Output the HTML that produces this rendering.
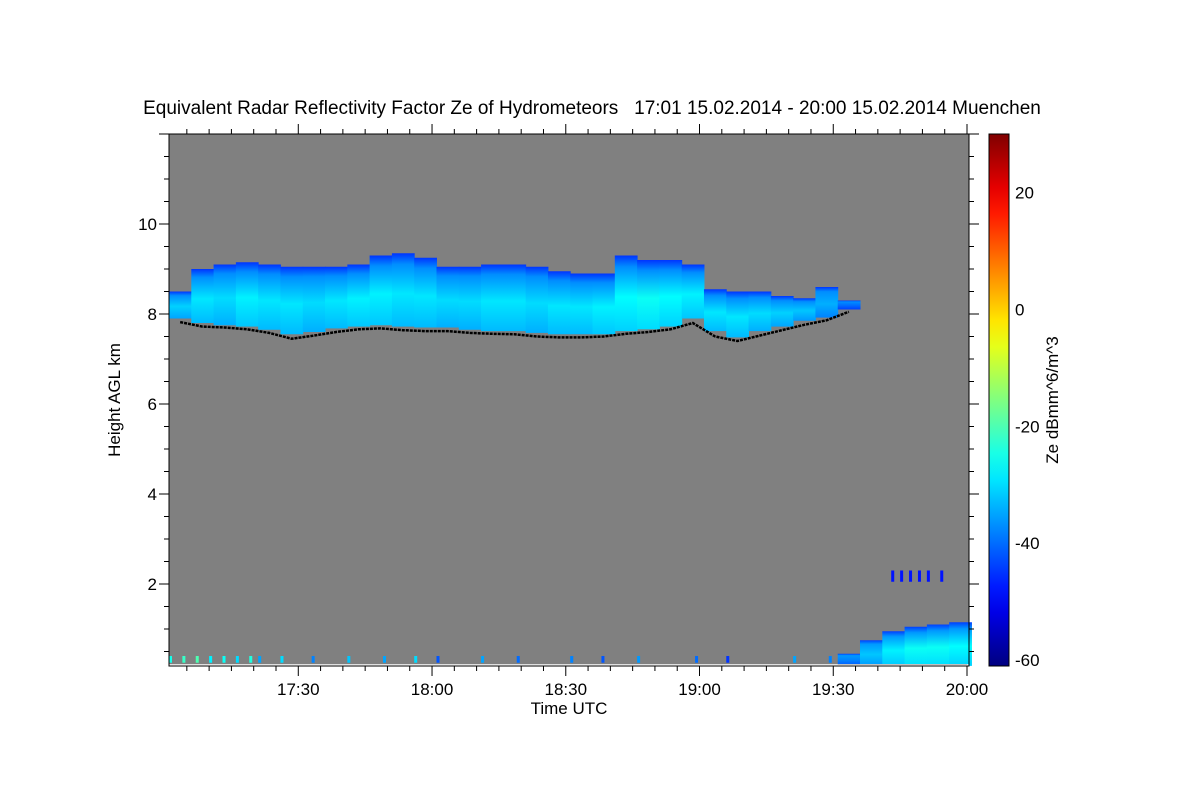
<!DOCTYPE html>
<html><head><meta charset="utf-8"><style>
body{margin:0;background:#fff}
svg text{font-family:"Liberation Sans",sans-serif;fill:#000;white-space:pre}
</style></head><body>
<svg id="chart" width="1200" height="800" xmlns="http://www.w3.org/2000/svg">
<text x="592" y="114" font-size="19" text-anchor="middle" xml:space="preserve">Equivalent Radar Reflectivity Factor Ze of Hydrometeors   17:01 15.02.2014 - 20:00 15.02.2014 Muenchen</text>
<rect x="169" y="134" width="800" height="532" fill="#808080"/>
<g id="marks"></g>
<line x1="169" y1="665" x2="969" y2="665" stroke="#fff" stroke-width="1.5"/>
<rect x="169" y="134" width="800" height="532" fill="none" stroke="#000" stroke-width="1"/>
<g id="axes"></g>
<text x="569" y="714" font-size="17" text-anchor="middle">Time UTC</text>
<text transform="translate(120,400) rotate(-90)" font-size="17" text-anchor="middle">Height AGL km</text>
<defs><linearGradient id="jet" x1="0" y1="1" x2="0" y2="0"></linearGradient></defs>
<rect x="989" y="134" width="20" height="532" fill="url(#jet)" stroke="#000" stroke-width="1"/>
<text transform="translate(1058,400) rotate(-90)" font-size="17" text-anchor="middle">Ze dBmm^6/m^3</text>
</svg>
<script>
// data (minutes after 17:01, step 5 min)
const cloudTop=[8.5,9.0,9.1,9.15,9.1,9.05,9.05,9.05,9.1,9.3,9.35,9.25,9.05,9.05,9.1,9.1,9.05,8.95,8.9,8.9,9.3,9.2,9.2,9.1,8.55,8.5,8.5,8.4,8.35,8.6,8.3];
const cloudBase=[7.9,7.8,7.75,7.72,7.65,7.55,7.6,7.68,7.72,7.75,7.72,7.7,7.7,7.65,7.62,7.62,7.58,7.55,7.55,7.55,7.62,7.66,7.72,7.9,7.62,7.48,7.62,7.72,7.85,7.92,8.1];
const ceiloBase=[7.82,7.72,7.7,7.66,7.58,7.45,7.52,7.6,7.66,7.68,7.64,7.62,7.62,7.58,7.56,7.55,7.5,7.48,7.48,7.5,7.56,7.6,7.66,7.8,7.5,7.4,7.52,7.64,7.76,7.86,8.05];
const zeCore=[-31,-29,-30,-28,-29,-29,-30,-29,-28,-28,-29,-29,-30,-30,-29,-29,-30,-29,-29,-28,-27,-26,-27,-28,-29,-29,-30,-31,-32,-34,-40];
const lowStart=[150,155,160,165,170,175];
const lowTop=[0.45,0.75,0.95,1.05,1.1,1.15];
const lowCore=[-38,-32,-28,-26,-26,-27];
const clutterT=[0,3,6,9,12,15,18,20,25,32,40,48,55,60,70,78,90,97,105,118,125,140,148];
const clutterZ=[-25,-22,-20,-28,-26,-30,-24,-35,-30,-38,-32,-35,-30,-42,-35,-40,-38,-42,-36,-40,-45,-35,-38];
const highT=[162,164,166,168,170,173];
const xTickLabels=["17:30","18:00","18:30","19:00","19:30","20:00"];
const xTickMin=[29,59,89,119,149,179];
const yTicks=[2,4,6,8,10];
const cbTicks=[20,0,-20,-40,-60];
const cbMin=-61, cbMax=30;

const X0=169,X1=967,T1=179;
const x=t=>X0+(X1-X0)*t/T1;
const y=h=>674-45*h;
const cy=v=>666-(v-cbMin)/(cbMax-cbMin)*532;
function jet(v){let t=(v-cbMin)/(cbMax-cbMin);const c=a=>Math.round(255*Math.max(0,Math.min(1,1.5-Math.abs(4*t-a))));return `rgb(${c(3)},${c(2)},${c(1)})`;}
const NS="http://www.w3.org/2000/svg";
function el(tag,attrs,parent){const e=document.createElementNS(NS,tag);for(const k in attrs)e.setAttribute(k,attrs[k]);parent.appendChild(e);return e;}
const defs=document.querySelector('defs'),marks=document.getElementById('marks'),axes=document.getElementById('axes');
function grad(id,edge,core){const g=el('linearGradient',{id:id,x1:0,y1:0,x2:0,y2:1},defs);
 el('stop',{offset:'0',['stop-color']:jet(edge)},g);el('stop',{offset:'0.15',['stop-color']:jet(edge+8)},g);
 el('stop',{offset:'0.55',['stop-color']:jet(core)},g);el('stop',{offset:'1',['stop-color']:jet(core-4)},g);}
cloudTop.forEach((tp,i)=>{grad('g'+i,-45,zeCore[i]);
 const r=el('rect',{x:x(i*5),y:y(tp),width:x(i*5+5)-x(i*5)+0.5,height:y(cloudBase[i])-y(tp),fill:`url(#g${i})`},marks);
 
 
});
let pts=ceiloBase.map((b,i)=>`${x(i*5+2.5)},${y(b)}`).join(' ');
const pl=el('polyline',{points:pts,fill:'none',stroke:'#000','stroke-width':2.5,'stroke-dasharray':'3 1'},marks);


lowStart.forEach((t,i)=>{grad('l'+i,-44,lowCore[i]);
 const r=el('rect',{x:x(t),y:y(lowTop[i]),width:x(t+5)-x(t)+0.5,height:y(0.18)-y(lowTop[i]),fill:`url(#l${i})`},marks);
 
 
});
clutterT.forEach((t,i)=>{const r=el('rect',{x:x(t),y:y(0.4),width:3,height:y(0.25)-y(0.4),fill:jet(clutterZ[i])},marks);
 
 
});
highT.forEach(t=>{const r=el('rect',{x:x(t),y:y(2.3),width:3,height:y(2.05)-y(2.3),fill:jet(-48)},marks);
 
 
});
const ln=el('line',{x1:x(150),y1:y(0.2),x2:x(179),y2:y(0.2),stroke:'#000','stroke-width':2},marks);


for(let t=4;t<=179;t+=5){const maj=xTickMin.includes(t);const L=maj?10:5;
 el('line',{x1:x(t),y1:666,x2:x(t),y2:666+L,stroke:'#000'},axes);el('line',{x1:x(t),y1:134,x2:x(t),y2:134-L,stroke:'#000'},axes);}
xTickLabels.forEach((s,i)=>{const t=el('text',{x:x(xTickMin[i]),y:695,'font-size':17,'text-anchor':'middle'},axes);t.textContent=s;
 
 
});
for(let h=0.5;h<=12.01;h+=0.5){if(y(h)>666)continue;const maj=Math.abs(h-Math.round(h/2)*2)<0.01;const L=maj?10:5;
 el('line',{x1:169,y1:y(h),x2:169-L,y2:y(h),stroke:'#000'},axes);el('line',{x1:969,y1:y(h),x2:969+L,y2:y(h),stroke:'#000'},axes);}
yTicks.forEach(h=>{const t=el('text',{x:157,y:y(h)+6,'font-size':17,'text-anchor':'end'},axes);t.textContent=h;
 
 
});
const jg=document.getElementById('jet');
for(let k=0;k<=20;k++){const v=cbMin+(cbMax-cbMin)*k/20;el('stop',{offset:k/20,'stop-color':jet(v)},jg);}
cbTicks.forEach(v=>{const t=el('text',{x:1015,y:cy(v)+6,'font-size':17},axes);t.textContent=v;
 
 
});
</script>
</body></html>
